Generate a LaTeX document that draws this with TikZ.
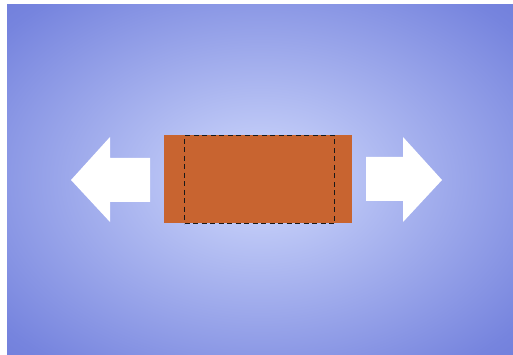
\documentclass[tikz,border=0pt]{standalone}
\definecolor{bgout}{RGB}{90,102,206}
\definecolor{bgmid}{RGB}{118,132,222}
\definecolor{bgin}{RGB}{192,202,247}
\definecolor{boxorange}{RGB}{200,100,48}
\pgfdeclareradialshading{bgshade}{\pgfpoint{0bp}{0bp}}{color(0bp)=(bgin); color(6bp)=(bgin); color(33bp)=(bgmid); color(55bp)=(bgout); color(80bp)=(bgout)}
\begin{document}
\begin{tikzpicture}[x=1pt,y=-1pt,
  arrowshape/.style={fill=white,draw=none},
  dashbox/.style={draw=black!90,line width=1.3pt,dash pattern=on 5pt off 3.5pt}]
\useasboundingbox (0,0) rectangle (513,355);
\fill[white] (0,0) rectangle (513,355);
\shade[shading=bgshade] (7,5) rectangle (513,355);
% left arrow
\fill[arrowshape] (71,180) -- (110,137) -- (110,158) -- (150,158) -- (150,202) -- (110,202) -- (110,222) -- cycle;
% right arrow
\fill[arrowshape] (442,180) -- (403,137) -- (403,157) -- (366,157) -- (366,201) -- (403,201) -- (403,222) -- cycle;
% box
\node[fill=boxorange,draw=none,minimum width=188pt,minimum height=88pt,inner sep=0pt,anchor=north west] (box) at (164,135) {};
\node[dashbox,minimum width=150pt,minimum height=88pt,inner sep=0pt,anchor=north west] (inner) at (184,135) {};
\end{tikzpicture}
\end{document}
